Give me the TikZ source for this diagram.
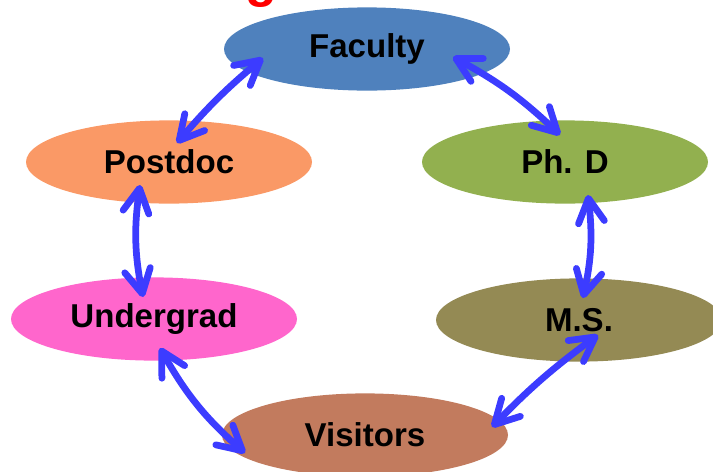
\documentclass[tikz,border=0pt]{standalone}
\usepackage{fontspec}
\setsansfont{Liberation Sans}
\usepackage{xcolor}
\usetikzlibrary{arrows.meta, shapes.geometric, calc, bending}

\definecolor{facblue}{HTML}{4F81BD}
\definecolor{postorange}{HTML}{FA9966}
\definecolor{phdgreen}{HTML}{92B04F}
\definecolor{ugradpink}{HTML}{FF66CC}
\definecolor{msolive}{HTML}{948A54}
\definecolor{visbrown}{HTML}{C27B5E}
\definecolor{arrblue}{HTML}{3C3CFF}

\begin{document}
\begin{tikzpicture}[
  ebox/.style={ellipse, inner sep=0pt,
    minimum width=7.15cm, minimum height=2.08cm,
    font=\sffamily\bfseries\fontsize{23.5}{27}\selectfont, text=black},
  arr/.style={{Straight Barb[length=6mm, width=6.5mm, round]}-{Straight Barb[length=6mm, width=6.5mm, round]},
    draw=arrblue, line width=4.8pt, line cap=round}
]

\useasboundingbox (0,0) rectangle (17.825,-11.8);
\clip (0,0) rectangle (17.825,-11.8);

%% --- Title (cut off) ---
\node[font=\sffamily\bfseries\fontsize{37}{40}\selectfont, text=red,
      anchor=base, inner sep=0pt] (ttl) at (6.525,0.1) {g};

%% --- Groups ---
\node[ebox, fill=facblue]    (fac)   at ( 9.175, -1.225) {Faculty};
\node[ebox, fill=postorange] (post)  at ( 4.225, -4.05)  {Postdoc};
\node[ebox, fill=phdgreen]   (phd)   at (14.125, -4.05)  {Ph. D};
\node[ebox, fill=ugradpink]  (ugrad) at ( 3.85,  -7.975) {Undergrad};
\node[ebox, fill=msolive]    (ms)    at (14.475, -8.0)   {M.S.};
\node[ebox, fill=visbrown]   (vis)   at ( 9.125,-10.875) {Visitors};

%% --- Links ---
\draw[arr] ($(fac)+(-2.6,-0.225)$)  to[bend right=5] ($(post)+(0.2,0.475)$);
\draw[arr] ($(fac)+(2.15,-0.2)$)    to[bend left=8]  ($(phd)+(-0.125,0.675)$);
\draw[arr] ($(post)+(-0.725,-0.575)$) to[bend right=10] ($(ugrad)+(-0.275,0.55)$);
\draw[arr] ($(phd)+(0.575,-0.825)$) to[bend left=10]  ($(ms)+(0.1,0.55)$);
\draw[arr] ($(ugrad)+(0.15,-0.725)$) to[bend right=10] ($(vis)+(-3.0,-0.45)$);
\draw[arr] ($(ms)+(0.475,-0.375)$)  to[bend right=5] ($(vis)+(3.175,0.2)$);

\end{tikzpicture}
\end{document}
